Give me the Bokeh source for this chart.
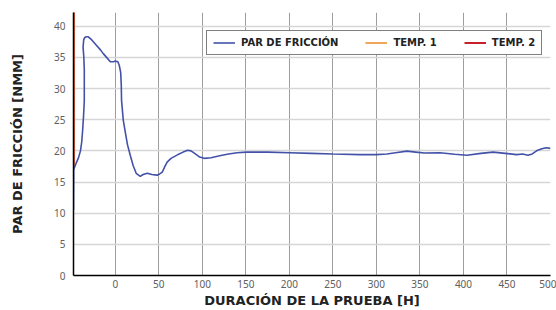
from bokeh.plotting import figure
from bokeh.models import Range1d, Legend, LegendItem, FixedTicker
from bokeh.embed import file_html
from bokeh.resources import INLINE

# Data
friction_x = [-48, -47.8, -45, -42, -40, -38.5, -37.5, -36.5, -35.6, -35.6, -36.2, -37, -36.3,
              -35, -33.3, -31, -27, -22, -17, -13.8, -10, -5.7, -2, 0, 3, 4.6, 6.2, 6.9, 7.2,
              9.2, 11.5, 14, 17.2, 20.6, 24, 28.7, 32, 36.7, 42, 48, 51, 54, 57, 59.6, 64,
              72, 78, 83, 87, 92, 97, 102, 110, 120, 130, 140, 151, 175, 200, 225, 250, 281,
              300, 312, 322, 335, 345, 355, 373, 390, 404, 420, 434, 448, 461, 468, 474,
              479, 484, 490, 495, 500]
friction_y = [10.5, 17.0, 18.0, 19.0, 20.0, 21.5, 23.3, 25.5, 28.0, 33.0, 35.2, 36.6, 37.8,
              38.2, 38.3, 38.3, 37.8, 37.0, 36.2, 35.6, 35.0, 34.3, 34.3, 34.4, 34.3, 33.7,
              32.6, 30.5, 28.1, 24.9, 23.0, 21.0, 19.3, 17.6, 16.4, 15.9, 16.2, 16.4, 16.2,
              16.1, 16.3, 16.6, 17.5, 18.2, 18.8, 19.4, 19.8, 20.1, 20.0, 19.5, 19.0, 18.8,
              18.9, 19.2, 19.5, 19.7, 19.8, 19.8, 19.7, 19.6, 19.5, 19.4, 19.4, 19.5, 19.7,
              19.95, 19.8, 19.65, 19.7, 19.45, 19.3, 19.6, 19.8, 19.6, 19.4, 19.5, 19.3,
              19.5, 20.0, 20.35, 20.5, 20.4]
temp1_x = [-47.3, -47.3]
temp1_y = [17.2, 45.0]
temp2_x = [-48, -48]
temp2_y = [17.5, 45.0]

x_ticks = [0, 50, 100, 150, 200, 250, 300, 350, 400, 450, 500]
y_ticks = [0, 5, 10, 15, 20, 25, 30, 35, 40]

FONT = "DejaVu Sans"
LABEL_FONT = "Noto Sans"

p = figure(width=556, height=310, output_backend="svg", toolbar_location=None,
           x_range=Range1d(-48, 500), y_range=Range1d(0, 42.2),
           min_border_left=73, min_border_right=6, min_border_top=12, min_border_bottom=35)
p.outline_line_color = None

r_t1 = p.line(temp1_x, temp1_y, line_color="#F2A65A", line_width=2)
r_t2 = p.line(temp2_x, temp2_y, line_color="#C8202A", line_width=2)
r_fric = p.line(friction_x, friction_y, line_color="#4352A8", line_width=1.6)

p.xaxis.ticker = FixedTicker(ticks=x_ticks)
p.yaxis.ticker = FixedTicker(ticks=y_ticks)

for ax in (p.xaxis[0], p.yaxis[0]):
    ax.axis_line_color = "black"
    ax.axis_line_width = 1.5
    ax.major_tick_line_color = None
    ax.minor_tick_line_color = None
    ax.major_tick_out = 0
    ax.major_tick_in = 0
    ax.minor_tick_out = 0
    ax.minor_tick_in = 0
    ax.major_label_text_font = LABEL_FONT
    ax.major_label_text_font_size = "10px"
    ax.major_label_text_color = "#606060"
    ax.axis_label_text_font = FONT
    ax.axis_label_text_font_style = "bold"
    ax.axis_label_text_font_size = "13px"
    ax.axis_label_text_color = "#222222"

p.xaxis.axis_label = "DURACIÓN DE LA PRUEBA [H]"
p.yaxis.axis_label = "PAR DE FRICCIÓN [NMM]"
p.xaxis.major_label_standoff = 4
p.xaxis.axis_label_standoff = 2
p.yaxis.major_label_standoff = 8
p.yaxis.axis_label_standoff = 26

p.xgrid.grid_line_color = "#9E9E9E"
p.xgrid.grid_line_width = 1
p.ygrid.grid_line_color = "#D6D6D6"
p.ygrid.grid_line_width = 1.5

legend = Legend(items=[LegendItem(label="PAR DE FRICCIÓN", renderers=[r_fric]),
                       LegendItem(label="TEMP. 1", renderers=[r_t1]),
                       LegendItem(label="TEMP. 2", renderers=[r_t2])],
                orientation="horizontal", location=(133, 220))
legend.label_text_font = FONT
legend.label_text_font_style = "bold"
legend.label_text_font_size = "10px"
legend.label_text_color = "#222222"
legend.border_line_color = "black"
legend.border_line_width = 1.5
legend.background_fill_alpha = 1
legend.glyph_width = 22
legend.glyph_height = 11
legend.label_height = 11
legend.label_standoff = 6
legend.spacing = 27
legend.padding = 6
legend.margin = 0
p.add_layout(legend, "center")

open("out.html", "w").write(file_html(p, INLINE))
